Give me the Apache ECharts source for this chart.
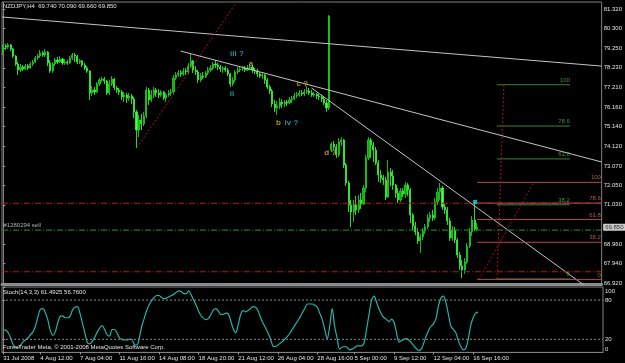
<!DOCTYPE html>
<html><head><meta charset="utf-8">
<script src="https://cdn.jsdelivr.net/npm/echarts@6/dist/echarts.min.js"></script>
<style>html,body{margin:0;padding:0;background:#000;}#c{width:625px;height:363px;}</style>
</head><body><div id="c"></div>
<script>
// ---- data (H4 bars, index 0 = 31 Jul 2008) ----
const opens = [79.17,79.38,79.32,79.43,79.22,78.85,78.43,78.11,78.27,78.17,78.32,78.22,78.43,78.53,78.75,78.85,79.01,78.90,79.06,78.48,78.06,78.43,78.64,78.53,78.69,78.48,78.53,78.48,78.75,78.90,78.85,78.53,78.59,78.38,78.22,78.06,76.91,77.06,76.96,77.38,77.59,77.64,77.54,76.91,77.38,77.64,77.17,77.06,76.96,76.70,76.80,76.64,76.75,76.59,75.91,74.96,75.49,75.28,75.70,77.06,76.54,76.80,77.06,76.91,76.80,76.96,76.64,76.80,76.91,76.96,77.69,77.85,77.96,77.90,78.06,78.01,78.32,78.59,78.11,78.01,77.59,77.80,77.75,77.96,78.11,78.22,78.43,78.38,78.27,78.17,78.22,78.11,77.90,77.38,77.59,78.01,78.11,78.17,78.22,78.11,78.22,78.27,78.11,78.06,77.90,77.80,77.85,77.59,77.22,77.01,76.33,76.12,76.22,76.43,76.33,76.43,76.38,76.54,76.59,76.75,76.80,76.91,76.85,76.96,77.01,76.91,76.80,76.85,76.75,76.70,76.59,76.38,76.12,73.91,74.22,74.07,73.65,74.33,74.44,73.12,72.18,71.02,70.65,71.02,70.76,71.28,71.07,71.91,73.49,74.44,74.17,73.91,73.23,72.60,72.44,72.33,71.44,72.75,72.54,72.07,71.65,71.28,71.76,71.60,72.07,71.81,70.49,69.92,69.60,69.13,69.34,69.65,69.86,70.34,70.49,70.34,71.18,71.70,71.91,70.91,70.76,70.18,69.28,69.71,69.18,68.39,67.81,67.60,68.02,68.86,69.60,70.23,69.74];
const closes = [79.38,79.32,79.43,79.22,78.85,78.43,78.11,78.27,78.17,78.32,78.22,78.43,78.53,78.75,78.85,79.01,78.90,79.06,78.48,78.06,78.43,78.64,78.53,78.69,78.48,78.53,78.48,78.75,78.90,78.85,78.53,78.59,78.38,78.22,78.06,76.91,77.06,76.96,77.38,77.59,77.64,77.54,76.91,77.38,77.64,77.17,77.06,76.96,76.70,76.80,76.64,76.75,76.59,75.91,74.96,75.49,75.28,75.70,77.06,76.54,76.80,77.06,76.91,76.80,76.96,76.64,76.80,76.91,76.96,77.69,77.85,77.96,77.90,78.06,78.01,78.32,78.59,78.11,78.01,77.59,77.80,77.75,77.96,78.11,78.22,78.43,78.38,78.27,78.17,78.22,78.11,77.90,77.38,77.59,78.01,78.11,78.17,78.22,78.11,78.22,78.27,78.11,78.06,77.90,77.80,77.85,77.59,77.22,77.01,76.33,76.12,76.22,76.43,76.33,76.43,76.38,76.54,76.59,76.75,76.80,76.91,76.85,76.96,77.01,76.91,76.80,76.85,76.75,76.70,76.59,76.38,76.12,80.95,74.22,74.07,73.65,74.33,74.44,73.12,72.18,71.02,70.65,71.02,70.76,71.28,71.07,71.91,73.49,74.44,74.17,73.91,73.23,72.60,72.44,72.33,71.44,72.75,72.54,72.07,71.65,71.28,71.76,71.60,72.07,71.81,70.49,69.92,69.60,69.13,69.34,69.65,69.86,70.34,70.49,70.34,71.18,71.70,71.91,70.91,70.76,70.18,69.28,69.71,69.18,68.39,67.81,67.60,68.02,68.86,69.60,70.23,69.76,69.85];
const lows = [78.90,79.17,79.22,79.11,78.75,78.32,77.85,78.01,78.06,78.11,78.11,78.17,78.32,78.48,78.64,78.75,78.80,78.80,78.32,77.96,77.96,78.32,78.43,78.48,78.38,78.38,78.38,78.43,78.64,78.53,78.43,78.43,78.27,78.11,77.96,76.54,76.75,76.80,76.91,77.27,77.48,77.38,76.80,76.80,77.27,77.06,76.91,76.80,76.54,76.43,76.38,76.49,76.33,75.59,74.02,74.59,74.96,75.17,75.59,76.28,76.43,76.64,76.70,76.64,76.70,76.54,76.43,76.70,76.75,76.85,77.59,77.75,77.75,77.80,77.85,77.90,78.22,77.96,77.85,77.43,77.48,77.64,77.69,77.85,78.01,78.11,78.22,78.11,78.01,77.96,78.01,77.80,77.22,77.27,77.48,77.90,78.01,78.06,78.01,78.06,78.11,77.96,77.90,77.75,77.69,77.64,77.38,77.12,76.85,76.17,75.91,75.75,76.06,76.12,76.17,76.22,76.33,76.38,76.54,76.64,76.70,76.75,76.75,76.85,76.80,76.70,76.70,76.59,76.54,76.43,76.28,75.91,76.01,73.80,73.91,73.49,73.54,74.12,72.96,72.02,70.65,69.86,70.13,70.49,70.60,70.81,71.02,71.70,73.38,73.49,73.28,73.12,72.23,72.18,72.07,71.28,71.39,72.02,71.81,71.39,71.12,71.18,71.44,71.39,71.49,70.07,69.70,69.44,68.97,68.50,69.18,69.50,69.76,70.13,70.18,70.23,71.02,71.28,70.76,70.55,69.97,69.13,69.13,69.02,68.23,67.60,67.18,67.39,67.92,68.76,69.39,69.65,69.66];
const highs = [79.48,79.48,79.53,79.48,79.27,78.90,78.53,78.43,78.38,78.43,78.43,78.53,78.64,78.85,78.96,79.17,79.11,79.22,79.11,78.64,78.53,78.75,78.80,78.85,78.75,78.69,78.64,78.85,79.01,79.01,78.90,78.69,78.64,78.48,78.32,78.11,77.27,77.22,77.48,77.69,77.75,77.75,77.59,77.59,77.80,77.69,77.27,77.17,77.06,76.96,76.91,76.91,76.85,76.70,76.01,75.75,75.80,75.91,77.22,77.17,77.06,77.22,77.17,77.12,77.06,77.01,76.91,77.06,77.12,77.85,78.01,78.11,78.11,78.22,78.22,78.48,78.96,78.64,78.32,78.11,77.96,78.01,78.06,78.27,78.38,78.53,78.64,78.48,78.38,78.32,78.32,78.22,77.96,77.75,78.11,78.27,78.32,78.32,78.32,78.38,78.43,78.38,78.22,78.17,78.01,78.01,77.90,77.69,77.33,77.12,76.54,76.49,76.64,76.59,76.54,76.54,76.70,76.75,76.91,76.96,77.06,77.06,77.12,77.27,77.17,77.06,76.96,76.91,76.85,76.80,76.70,76.54,81.00,74.33,74.38,74.22,74.54,74.59,74.49,73.23,72.28,71.28,71.28,71.49,71.54,71.65,72.07,73.65,74.59,74.54,74.33,74.07,73.38,72.86,72.60,72.49,73.38,72.96,72.86,72.12,71.91,71.91,71.91,72.23,72.18,71.91,70.60,70.13,69.81,69.50,69.81,70.02,70.55,70.65,70.76,71.39,71.91,72.18,72.02,71.07,70.91,70.34,69.92,69.86,69.28,68.55,68.13,68.23,69.02,69.81,70.44,71.12,70.09];
const stochK = [34,34,30,22,12,8,7,11,16,19,22,27,31,40,54,66,67,61,50,34,26,31,45,55,56,53,53,55,65,69,70,60,45,30,15,13,17,23,31,37,41,35,27,25,35,35,30,22,20,19,19,20,20,12,11,22,40,52,64,73,79,84,87,87,84,82,83,85,87,89,92,94,93,90,90,94,88,80,72,63,56,52,50,52,58,65,67,63,58,58,60,59,48,36,30,42,58,64,62,64,67,70,69,64,54,45,38,30,21,10,9,11,14,17,21,25,30,36,42,48,54,61,68,74,74,74,72,69,60,50,35,21,40,67,40,22,5,8,9,8,4,5,7,10,10,10,16,38,60,81,86,76,66,58,53,50,47,51,46,30,16,18,20,21,19,15,10,6,3,5,14,25,34,40,44,52,72,83,86,76,58,40,35,30,18,9,4,6,20,41,53,60,61.49];

const slotCount = 243;
const tickIndex = [0,15,31,47,63,79,95,111,127,142,158,174,190];
const tickLabels = ['31 Jul 2008','4 Aug 12:00','7 Aug 04:00','11 Aug 16:00','14 Aug 08:00','18 Aug 20:00','21 Aug 12:00','26 Aug 04:00','28 Aug 16:00','5 Sep 00:00','9 Sep 12:00','12 Sep 04:00','16 Sep 16:00'];
const priceTicks = [81.32,80.30,79.25,78.23,77.21,76.16,75.14,74.12,73.07,72.05,71.03,68.96,67.94,66.92];
const stochTicks = [0,20,80,100];
const stochLevels = [80,20];

// chart objects (bar index, price)
const trendUpper = [[-0.5,80.90],[242.5,78.32]];
const trendMid = [[71.9,79.11],[242.5,73.28]];
const trendLow = [[124.9,77.17],[236,66.75]];
const redRay = [[54.1,74.02],[96,81.95]];
const orderPrices = [71.11,69.70,67.51];
const orderLabel = '#1280294 sell';
const fibGreenNames = ['100','78.6','61.8','38.2','0'];
const fibGreenPrices = [77.34,75.17,73.44,71.03,67.13];
const fibGreenSpan = [200,229.6];
const fibGreenDiag = [[200.1,67.13],[202.9,77.34]];
const fibRedNames = ['100','78.6','61.8','38.2','0'];
const fibRedPrices = [72.21,71.12,70.26,69.06,67.11];
const fibRedSpan = [192,242.5];
const fibRedDiag = [[192.8,67.11],[215,72.21]];
const cyanText = ['iii ?','ii','iv ?'];
const cyanX = [94.7,92.7,116.8];
const cyanY = [78.96,76.88,75.36];
const yellowText = ['a','c ?','b','d ?'];
const yellowX = [100.4,121.2,111.5,132.5];
const yellowY = [78.43,77.38,75.35,73.75];
const orderMark = [191.2,71.18];
const lastPrice = 69.85;

const F = '"Liberation Sans", Arial, sans-serif';
const tickSet = new Set(tickIndex);
const cats = Array.from({length: slotCount}, (_, i) => String(i));
const xMin = -0.5, xMax = slotCount - 0.5;

function seg(pts, color, type, width, xi, yi) {
  return {type:'line', xAxisIndex: xi===undefined?1:xi, yAxisIndex: yi||0, data: pts, symbol:'none', silent:true,
    lineStyle:{color: color, type: type, width: width||1}, z:3};
}
const dashDot = [6,2,1,2];
const series = [];
series.push({type:'candlestick', xAxisIndex:0, yAxisIndex:0, barWidth:1.6,
  data: opens.map((o,i)=>[o, closes[i], lows[i], highs[i]]),
  itemStyle:{color:'#12a812', color0:'#44ff44', borderColor:'#1ec81e', borderColor0:'#2cf22c', borderWidth:0.9}, z:2});
series.push(seg(trendUpper,'#c4c4c4','solid'));
series.push(seg(trendMid,'#c4c4c4','solid'));
series.push(seg(trendLow,'#c4c4c4','solid'));
series.push(seg(redRay,'#b01010',[2,2]));
orderPrices.forEach((p,k)=>series.push(seg([[xMin,p],[xMax,p]], k===1?'#1c9c1c':'#b41818', dashDot)));
fibGreenPrices.forEach(p=>series.push(seg([[fibGreenSpan[0],p],[fibGreenSpan[1],p]],'#3a823a','solid')));
fibRedPrices.forEach(p=>series.push(seg([[fibRedSpan[0],p],[fibRedSpan[1],p]],'#b44a4a','solid')));
series.push(seg(fibGreenDiag,'#b01010',[2,2]));
series.push(seg(fibRedDiag,'#b01010',[2,2]));

const txt = [];
function addText(x, y, text, color, size, pos, align, weight) {
  txt.push({value:[x,y], label:{show:true, formatter:text, position:pos, align:align, distance:1,
    color:color, fontSize:size, fontFamily:F, fontWeight: weight||'normal'}});
}
fibGreenNames.forEach((n,k)=>addText(fibGreenSpan[1], fibGreenPrices[k], n, '#5fae5f', 6, 'top', 'right'));
fibRedNames.forEach((n,k)=>addText(fibRedSpan[1]-0.3, fibRedPrices[k], n, '#d46a6a', 6, 'top', 'right'));
addText(xMin+0.6, orderPrices[1], orderLabel, '#d8d8d8', 6, 'top', 'left');
cyanText.forEach((t,k)=>addText(cyanX[k], cyanY[k], t, '#28b4c8', 8, 'inside', 'center', 'bold'));
yellowText.forEach((t,k)=>addText(yellowX[k], yellowY[k], t, '#d2bc10', 8, 'inside', 'center', 'bold'));
series.push({type:'scatter', xAxisIndex:1, yAxisIndex:0, symbolSize:1, itemStyle:{color:'rgba(0,0,0,0)'}, data: txt, z:5, clip:false, silent:true});
series.push({type:'scatter', xAxisIndex:1, yAxisIndex:0, symbol:'rect', symbolSize:4, itemStyle:{color:'#00e8ff'}, data:[orderMark], z:6, silent:true});
series.push({type:'scatter', xAxisIndex:1, yAxisIndex:0, symbolSize:1, itemStyle:{color:'rgba(0,0,0,0)'}, clip:false, silent:true, z:7,
  data:[{value:[xMax,lastPrice], label:{show:true, formatter: lastPrice.toFixed(3), position:'right', distance:1,
    backgroundColor:'#ffffff', color:'#000', fontSize:6, fontFamily:F, padding:[1,2,0,2]}}]});

// stochastic
series.push({type:'line', xAxisIndex:2, yAxisIndex:1, data: stochK, showSymbol:false, symbol:'none', smooth:0.3,
  lineStyle:{color:'#22b4a8', width:1.2}, silent:true, z:3});
stochLevels.forEach(v=>series.push(seg([[xMin,v],[xMax,v]],'#8a8a8a',[2,2],1,3,1)));

const labelCol = '#e2e2e2';
const option = {
  backgroundColor:'#000',
  animation:false,
  title:[
    {text:'NZDJPY,H4  69.740 70.090 69.660 69.850', left:3, top:3, padding:0, textStyle:{color:labelCol, fontSize:6, fontWeight:'normal', fontFamily:F}},
    {text:'Stoch(14,3,3) 61.4925 56.7600', left:3, top:289, padding:0, textStyle:{color:labelCol, fontSize:6, fontWeight:'normal', fontFamily:F}},
    {text:'ForexTrader Meta, © 2001-2008 MetaQuotes Software Corp.', left:3, top:344, padding:0, textStyle:{color:labelCol, fontSize:6, fontWeight:'normal', fontFamily:F}}
  ],
  grid:[
    {left:2, right:22, top:2, height:282, show:true, borderColor:'#808080', borderWidth:1},
    {left:2, right:22, top:287, height:65.4, show:true, borderColor:'#808080', borderWidth:1}
  ],
  xAxis:[
    {type:'category', gridIndex:0, data:cats, axisLine:{show:true, lineStyle:{color:'#8c8c8c', width:3}}, axisTick:{show:false}, axisLabel:{show:false}, splitLine:{show:false}},
    {type:'value', gridIndex:0, min:xMin, max:xMax, show:false},
    {type:'category', gridIndex:1, data:cats,
      axisLine:{show:true, lineStyle:{color:'#808080'}},
      axisTick:{show:true, alignWithLabel:true, length:2, interval:(i)=>tickSet.has(i), lineStyle:{color:'#a0a0a0'}},
      axisLabel:{show:true, interval:(i)=>tickSet.has(i), formatter:(v,i)=>tickLabels[tickIndex.indexOf(Number(v))] || '',
        align:'left', margin:3, fontSize:6, color:labelCol, fontFamily:F}, splitLine:{show:false}},
    {type:'value', gridIndex:1, min:xMin, max:xMax, show:false}
  ],
  yAxis:[
    {type:'value', gridIndex:0, position:'right', min:66.867, max:81.688, scale:true,
      axisLine:{show:true, lineStyle:{color:'#808080'}},
      axisTick:{show:true, length:2, customValues:priceTicks, lineStyle:{color:'#a0a0a0'}},
      axisLabel:{show:true, customValues:priceTicks, formatter:(v)=>Number(v).toFixed(3), margin:2, fontSize:6, color:labelCol, fontFamily:F},
      splitLine:{show:false}},
    {type:'value', gridIndex:1, position:'right', min:0, max:100,
      axisLine:{show:true, lineStyle:{color:'#808080'}},
      axisTick:{show:true, length:2, customValues:stochTicks, lineStyle:{color:'#a0a0a0'}},
      axisLabel:{show:true, customValues:stochTicks, margin:2, fontSize:6, color:labelCol, fontFamily:F,
        formatter:(v)=> v===100 ? '{t|100}' : (v===0 ? '{b|0}' : '{n|'+v+'}'),
        rich:{t:{padding:[8,0,0,0], fontSize:6, color:labelCol}, b:{padding:[0,0,6,0], fontSize:6, color:labelCol}, n:{fontSize:6, color:labelCol}}},
      splitLine:{show:false}}
  ],
  series: series
};
const chart = echarts.init(document.getElementById('c'), null, {renderer:'canvas', width:625, height:363});
chart.setOption(option);
</script>
</body></html>
